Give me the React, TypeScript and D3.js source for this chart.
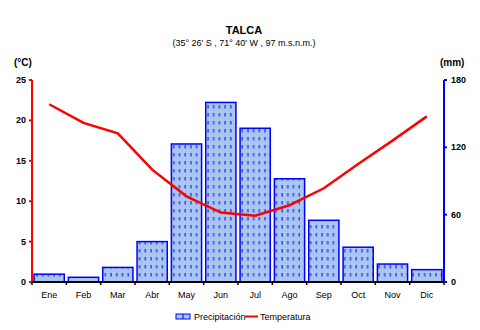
import React from "react";
import * as d3 from "d3";

const months = ["Ene", "Feb", "Mar", "Abr", "May", "Jun", "Jul", "Ago", "Sep", "Oct", "Nov", "Dic"];
const precipitation = [7, 4.2, 13, 36, 123, 160, 137, 92, 55, 31, 16, 11];
const temperature = [22.0, 19.7, 18.4, 13.9, 10.6, 8.6, 8.2, 9.5, 11.6, 14.6, 17.5, 20.5];
const tempTicks = [0, 5, 10, 15, 20, 25];
const precTicks = [0, 60, 120, 180];

const W = 480, H = 330;
const left = 32, right = 444, top = 80, bottom = 282;
const font = "'Liberation Sans', Arial, sans-serif";

export default function App() {
  const x = d3.scaleBand<string>().domain(months).range([left, right]).paddingInner(0.12).paddingOuter(0.06);
  const xb = d3.scaleLinear().domain([0, 12]).range([left, right]);
  const yT = d3.scaleLinear().domain([0, 25]).range([bottom, top]);
  const yP = d3.scaleLinear().domain([0, 180]).range([bottom, top]);
  const line = d3.line<number>()
    .x((_, i) => (x(months[i]) as number) + x.bandwidth() / 2)
    .y((d) => yT(d));

  return (
    <svg width={W} height={H} style={{ position: "absolute", left: 0, top: 0, background: "#fff" }} fontFamily={font}>
      <defs>
        <pattern id="hatch" patternUnits="userSpaceOnUse" width="5.7" height="8" x={left + 3} y={0}>
          <rect width="5.7" height="8" fill="#a8c6f0" />
          <line x1="2" y1="1" x2="2" y2="4.5" stroke="#0000ff" strokeWidth="1" />
        </pattern>
      </defs>
      <rect width={W} height={H} fill="#fff" />
      <text x={244} y={34} textAnchor="middle" fontSize={11} fontWeight="bold">TALCA</text>
      <text x={244} y={46} textAnchor="middle" fontSize={9}>(35° 26' S , 71° 40' W , 97 m.s.n.m.)</text>
      <text x={14} y={66} fontSize={10} fontWeight="bold">(°C)</text>
      <text x={440} y={66} fontSize={10} fontWeight="bold">(mm)</text>

      {months.map((m, i) => (
        <rect key={m} x={x(m)} y={yP(precipitation[i])} width={x.bandwidth()} height={bottom - yP(precipitation[i])}
          fill="url(#hatch)" stroke="#0000ff" strokeWidth={1.5} />
      ))}

      <path d={line(temperature) || ""} fill="none" stroke="#ff0000" strokeWidth={2.5} />

      {/* left axis */}
      <line x1={left} x2={left} y1={top} y2={bottom + 1} stroke="#ff0000" strokeWidth={2} />
      {tempTicks.map((t) => (
        <g key={t}>
          <line x1={left - 3} x2={left} y1={yT(t)} y2={yT(t)} stroke="#ff0000" strokeWidth={2} />
          <text x={left - 6} y={yT(t) + 3} textAnchor="end" fontSize={9} fontWeight="bold">{t}</text>
        </g>
      ))}
      {/* right axis */}
      <line x1={right} x2={right} y1={top} y2={bottom + 1} stroke="#0000ff" strokeWidth={2} />
      {precTicks.map((t) => (
        <g key={t}>
          <line x1={right} x2={right + 3} y1={yP(t)} y2={yP(t)} stroke="#0000ff" strokeWidth={2} />
          <text x={right + 7} y={yP(t) + 3} fontSize={9} fontWeight="bold">{t}</text>
        </g>
      ))}
      {/* bottom axis */}
      <line x1={left} x2={right} y1={bottom} y2={bottom} stroke="#000" strokeWidth={2} />
      {d3.range(0, 13).map((i) => (
        <line key={i} x1={xb(i)} x2={xb(i)} y1={bottom} y2={bottom + 3} stroke="#000" strokeWidth={1.5} />
      ))}
      {months.map((m) => (
        <text key={m} x={(x(m) as number) + x.bandwidth() / 2} y={298} textAnchor="middle" fontSize={9}>{m}</text>
      ))}

      {/* legend */}
      <rect x={176} y={314} width={14} height={5} fill="#a8c6f0" stroke="#0000ff" strokeWidth={1} />
      <line x1={183} x2={183} y1={314} y2={319} stroke="#0000ff" strokeWidth={1} />
      <text x={194} y={320} fontSize={9}>Precipitación</text>
      <line x1={245} x2={258} y1={316.5} y2={316.5} stroke="#ff0000" strokeWidth={2} />
      <text x={260} y={320} fontSize={9}>Temperatura</text>
    </svg>
  );
}
